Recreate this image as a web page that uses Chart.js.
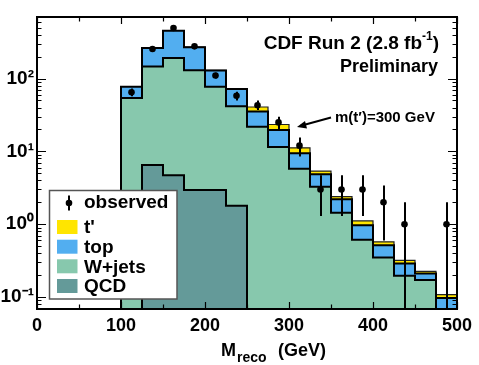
<!DOCTYPE html>
<html>
<head>
<meta charset="utf-8">
<script src="https://cdn.jsdelivr.net/npm/chart.js@4.4.1/dist/chart.umd.min.js"></script>
<style>
  html, body { margin: 0; padding: 0; background: #fff; }
  #wrap { width: 479px; height: 365px; }
</style>
</head>
<body>
<div id="wrap"><canvas id="mreco"></canvas></div>
<script>
// bin edges in GeV (25 GeV bins)
const binEdges = [100, 125, 150, 175, 200, 225, 250, 275, 300, 325, 350, 375, 400, 425, 450, 475, 500];
// per-component expectations (events / bin), stacked QCD -> W+jets -> top -> t'
const qcdVals    = [0, 6.5, 4.7, 2.95, 2.95, 1.8, 0, 0, 0, 0, 0, 0, 0, 0, 0, 0];
const wjetsVals  = [54, 140, 187, 127, 74, 40, 21.8, 11.5, 5.8, 3.28, 1.44, 0.61, 0.35, 0.196, 0.172, 0.04];
const topVals    = [23, 116, 263, 139, 52, 30, 13.5, 8.1, 3.6, 1.56, 0.76, 0.36, 0.165, 0.093, 0.038, 0.057];
const tprimeVals = [0.1, 0.3, 0.5, 0.6, 0.8, 1.0, 5.4, 3.8, 1.8, 0.53, 0.19, 0.14, 0.058, 0.031, 0.015, 0.011];
// data
const observed = [65, 255, 495, 277, 110, 58, 43, 25, 12, 3, 3, 3, 2, 1, null, 1];
const obsLow   = [57, 239, 473, 260, 100, 50, 37, 20, 8.5, 1.3, 1.3, 1.3, 0.6, 0, null, 0];
const obsHigh  = [73, 271, 517, 294, 120, 66, 50, 30, 15.5, 4.7, 4.7, 4.7, 3.4, 2.0, null, 2.0];
// axes
const xTickValues = [0, 100, 200, 300, 400, 500];
const yTickValues = [0.1, 1, 10, 100];
const yTickLabels = ['10\u207B\u00B9', '10\u2070', '10\u00B9', '10\u00B2'];

const Y_MIN = 0.0686, Y_MAX = 700, FLOOR = 0.01;
const FONT = "'Liberation Sans', Arial, Helvetica, sans-serif";
const bold = px => 'bold ' + px + 'px ' + FONT;

const colors = {
  tprime: '#ffe500',
  top: '#52aef0',
  wjets: '#87c8ad',
  qcd: '#649a99'
};

// running sum for the stack
function addUp(a, b) { return a.map((v, i) => v + b[i]); }
const qcdCum = qcdVals.slice();
const wjetsCum = addUp(qcdCum, wjetsVals);
const topCum = addUp(wjetsCum, topVals);
const tprimeCum = addUp(topCum, tprimeVals);

// histogram outline points (closed to below the axis at both ends)
function steps(vals) {
  const pts = [{ x: binEdges[0], y: FLOOR }];
  vals.forEach((v, i) => pts.push({ x: binEdges[i], y: Math.max(v, FLOOR) }));
  pts.push({ x: binEdges[binEdges.length - 1], y: Math.max(vals[vals.length - 1], FLOOR) });
  pts.push({ x: binEdges[binEdges.length - 1], y: FLOOR });
  return pts;
}

function histSet(label, vals, fill, bw, stroke) {
  return {
    label: label,
    data: steps(vals),
    stepped: true,
    fill: 'start',
    backgroundColor: fill,
    borderColor: stroke,
    borderWidth: bw,
    pointRadius: 0,
    tension: 0
  };
}

const centers = binEdges.slice(0, -1).map((e, i) => (e + binEdges[i + 1]) / 2);

const decorations = {
  id: 'decorations',
  afterDatasetsDraw(chart) {
    const { ctx, chartArea: a, scales: { x, y } } = chart;
    ctx.save();
    // error bars on data
    ctx.strokeStyle = '#000';
    ctx.lineWidth = 2;
    centers.forEach((c, i) => {
      if (obsHigh[i] == null) return;
      const px = Math.round(x.getPixelForValue(c));
      const yHi = Math.max(a.top, y.getPixelForValue(obsHigh[i]));
      const yLo = obsLow[i] > Y_MIN ? y.getPixelForValue(obsLow[i]) : a.bottom;
      ctx.beginPath();
      ctx.moveTo(px, yHi);
      ctx.lineTo(px, yLo);
      ctx.stroke();
    });
    // frame
    ctx.lineWidth = 2;
    ctx.strokeRect(a.left, a.top, a.right - a.left, a.bottom - a.top);
    // inward ticks, y (log)
    ctx.lineWidth = 1.2;
    ctx.beginPath();
    for (let d = -2; d <= 3; d++) {
      for (let k = 1; k <= 9; k++) {
        const v = k * Math.pow(10, d);
        if (v < Y_MIN || v > Y_MAX) continue;
        const py = Math.round(y.getPixelForValue(v)) + 0.5;
        const len = k === 1 ? 9 : 4.5;
        ctx.moveTo(a.left, py); ctx.lineTo(a.left + len, py);
        ctx.moveTo(a.right, py); ctx.lineTo(a.right - len, py);
      }
    }
    // x ticks
    for (let v = 0; v <= 500; v += 50) {
      const px = Math.round(x.getPixelForValue(v)) + 0.5;
      const len = v % 100 === 0 ? 7 : 4.5;
      ctx.moveTo(px, a.bottom); ctx.lineTo(px, a.bottom - len);
      ctx.moveTo(px, a.top); ctx.lineTo(px, a.top + len);
    }
    ctx.stroke();
    ctx.restore();
  },
  afterDraw(chart) {
    const ctx = chart.ctx;
    ctx.save();
    ctx.fillStyle = '#000';
    ctx.textBaseline = 'alphabetic';

    // experiment label
    const main = 'CDF Run 2 (2.8 fb';
    ctx.font = bold(12);
    const supW = ctx.measureText('-1').width;
    ctx.font = bold(19);
    const closeW = ctx.measureText(')').width;
    const mainW = ctx.measureText(main).width;
    const x0 = 439 - closeW - supW - mainW;
    ctx.textAlign = 'left';
    ctx.fillText(main, x0, 48.5);
    ctx.font = bold(12);
    ctx.fillText('-1', x0 + mainW, 40);
    ctx.font = bold(19);
    ctx.fillText(')', x0 + mainW + supW, 48.5);
    ctx.font = bold(18);
    ctx.textAlign = 'right';
    ctx.fillText('Preliminary', 438, 72);

    // signal annotation with arrow
    ctx.textAlign = 'left';
    ctx.font = bold(15);
    ctx.fillText('m(t\u2032)=300 GeV', 335, 122);
    ctx.strokeStyle = '#000';
    ctx.lineWidth = 2;
    ctx.beginPath();
    ctx.moveTo(331, 117.5);
    ctx.lineTo(300, 126);
    ctx.stroke();
    ctx.beginPath();
    ctx.moveTo(297, 127);
    ctx.lineTo(305, 121);
    ctx.lineTo(307, 128.5);
    ctx.closePath();
    ctx.fill();

    // x axis title with subscript
    ctx.font = bold(18);
    ctx.fillText('M', 221, 356);
    const mW = ctx.measureText('M').width;
    ctx.font = bold(14);
    ctx.fillText('reco', 221 + mW + 1, 362);
    ctx.font = bold(18);
    ctx.fillText('(GeV)', 278, 356);

    // legend
    const lx = 49.5, ly = 190.5, lw = 127.5, lh = 108.5;
    ctx.fillStyle = '#fff';
    ctx.fillRect(lx, ly, lw, lh);
    ctx.strokeStyle = '#555';
    ctx.lineWidth = 1.5;
    ctx.strokeRect(lx, ly, lw, lh);
    ctx.fillStyle = '#000';
    ctx.strokeStyle = '#000';
    ctx.lineWidth = 2;
    ctx.beginPath();
    ctx.moveTo(69, 195.5); ctx.lineTo(69, 210.5);
    ctx.stroke();
    ctx.beginPath();
    ctx.arc(69, 203, 3.3, 0, Math.PI * 2);
    ctx.fill();
    ctx.font = bold(19);
    ctx.textBaseline = 'middle';
    ctx.fillText('observed', 84, 203);
    const entries = [
      ["t'", colors.tprime, 227],
      ['top', colors.top, 246.7],
      ['W+jets', colors.wjets, 266.3],
      ['QCD', colors.qcd, 286]
    ];
    entries.forEach(([name, col, cy]) => {
      ctx.fillStyle = col;
      ctx.fillRect(57, cy - 7, 20.5, 14);
      ctx.fillStyle = '#000';
      ctx.fillText(name, 84, cy + 1);
    });
    ctx.restore();
  }
};

new Chart(document.getElementById('mreco'), {
  type: 'line',
  data: {
    datasets: [
      {
        label: 'observed',
        data: centers.map((c, i) => ({ x: c, y: observed[i] })),
        showLine: false,
        pointRadius: 3.3,
        pointBackgroundColor: '#000',
        pointBorderColor: '#000',
        pointBorderWidth: 0
      },
      histSet('QCD', qcdCum, colors.qcd, 2, '#000'),
      histSet('W+jets', wjetsCum, colors.wjets, 2, '#000'),
      histSet('top', topCum, colors.top, 2, '#000'),
      histSet("t'", tprimeCum, colors.tprime, 1.2, '#222')
    ]
  },
  options: {
    responsive: true,
    maintainAspectRatio: false,
    animation: false,
    events: [],
    layout: { padding: { top: 17, right: 22, left: 0, bottom: 0 } },
    plugins: {
      legend: { display: false },
      tooltip: { enabled: false }
    },
    scales: {
      x: {
        type: 'linear',
        min: 0,
        max: 500,
        grid: { display: false, drawTicks: false },
        border: { display: false },
        afterBuildTicks: s => { s.ticks = xTickValues.map(v => ({ value: v })); },
        afterFit: s => { s.height = 56; },
        ticks: {
          autoSkip: false,
          maxRotation: 0,
          padding: 6,
          color: '#000',
          font: { family: FONT, size: 18, weight: 'bold' }
        }
      },
      y: {
        type: 'logarithmic',
        min: Y_MIN,
        max: Y_MAX,
        grid: { display: false, drawTicks: false },
        border: { display: false },
        afterBuildTicks: s => { s.ticks = yTickValues.map(v => ({ value: v, major: true })); },
        afterFit: s => { s.width = 37; },
        ticks: {
          autoSkip: false,
          padding: 3,
          color: '#000',
          font: { family: FONT, size: 19, weight: 'bold' },
          callback: v => {
            const i = yTickValues.indexOf(v);
            return i >= 0 ? yTickLabels[i] : '';
          }
        }
      }
    }
  },
  plugins: [decorations]
});
</script>
</body>
</html>
